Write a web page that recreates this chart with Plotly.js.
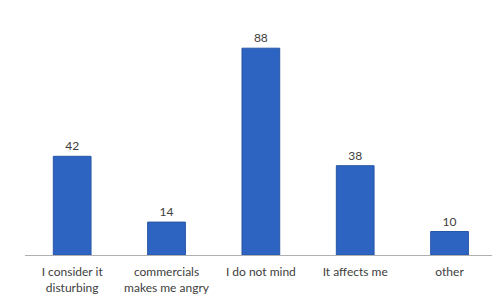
<!DOCTYPE html>
<html><head><meta charset="utf-8">
<script src="https://cdn.plot.ly/plotly-3.0.1.min.js"></script>
<style>body{margin:0;background:#fff}#chart{width:492px;height:301px}</style>
</head><body><div id="chart"></div>
<script>
const categories = ["I consider it<br>disturbing", "commercials<br>makes me angry", "I do not mind", "It affects me", "other"];
const values = [42, 14, 88, 38, 10];

const trace = {
  type: 'bar',
  x: categories,
  y: values,
  text: values.map(String),
  textposition: 'outside',
  cliponaxis: false,
  textfont: {family: 'Lato, "Open Sans", sans-serif', size: 12, color: '#404040'},
  marker: {color: '#2d64c2', line: {color: '#2856a6', width: 1}},
  hoverinfo: 'none'
};

const layout = {
  width: 492, height: 301,
  margin: {l: 25, r: 0, t: 20, b: 46},
  paper_bgcolor: '#ffffff', plot_bgcolor: '#ffffff',
  bargap: 0.6,
  showlegend: false,
  xaxis: {
    type: 'category',
    range: [-0.5, 4.45],
    showline: true, linecolor: '#b0b0b0', linewidth: 1,
    ticks: '', showgrid: false,
    ticklabelstandoff: 6,
    tickfont: {family: 'Lato, "Open Sans", sans-serif', size: 12, color: '#404040'},
    fixedrange: true
  },
  yaxis: {
    range: [0, 100],
    visible: false,
    showgrid: false, zeroline: false,
    fixedrange: true
  }
};

Plotly.newPlot('chart', [trace], layout, {displayModeBar: false, staticPlot: true});
</script>
</body></html>
